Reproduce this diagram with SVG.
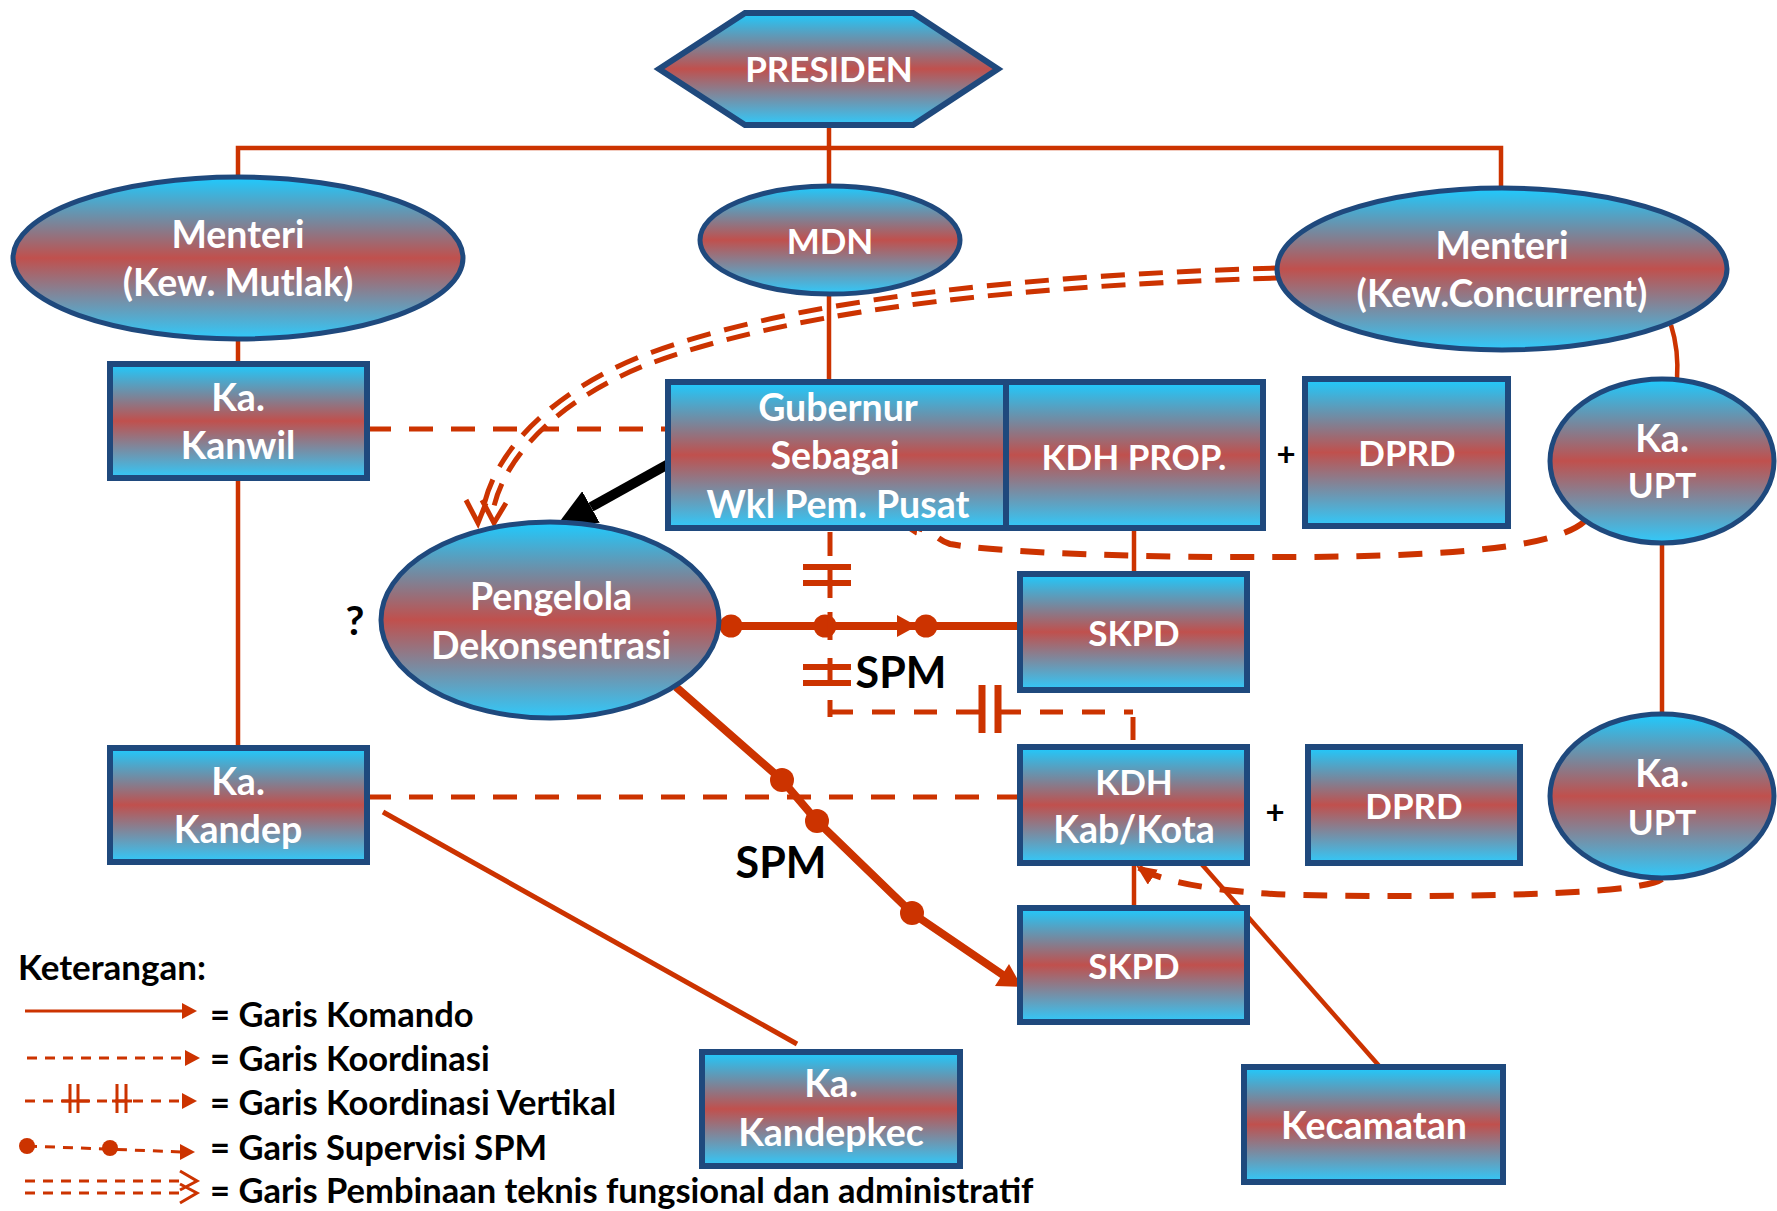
<svg xmlns="http://www.w3.org/2000/svg" width="1777" height="1211" viewBox="0 0 1777 1211">
<defs>
<linearGradient id="g" x1="0" y1="0" x2="0" y2="1">
<stop offset="0" stop-color="#1ECBFF"/>
<stop offset="0.5" stop-color="#C0504D"/>
<stop offset="1" stop-color="#30CAFB"/>
</linearGradient>
<marker id="ra" viewBox="0 0 20 18" refX="18" refY="9" markerWidth="20" markerHeight="18" markerUnits="userSpaceOnUse" orient="auto">
<path d="M0 0 L20 9 L0 18 Z" fill="#CC3300"/>
</marker>
<marker id="ba" viewBox="0 0 40 36" refX="0" refY="18" markerWidth="40" markerHeight="36" markerUnits="userSpaceOnUse" orient="auto">
<path d="M0 0 L40 18 L0 36 Z" fill="#000"/>
</marker>
<style>
.n{fill:url(#g);stroke:#1F497D;stroke-width:6}
.e{fill:url(#g);stroke:#1F497D;stroke-width:5}
.t{font-family:Lato,"Liberation Sans",sans-serif;font-weight:bold;font-size:35px;fill:#fff;text-anchor:middle}
.m{font-size:37.5px}
.k{font-family:Lato,"Liberation Sans",sans-serif;font-weight:bold;fill:#000}
.lt{font-size:34.5px}
.s{fill:none;stroke:#CC3300;stroke-width:4.5}
.d{fill:none;stroke:#CC3300;stroke-width:5;stroke-dasharray:24 18}
.dc{fill:none;stroke:#CC3300;stroke-width:6;stroke-dasharray:24 18}
.th{fill:none;stroke:#CC3300;stroke-width:8}
.tk{fill:none;stroke:#CC3300;stroke-width:6}
.lg{fill:none;stroke:#CC3300;stroke-width:3}
.lgd{fill:none;stroke:#CC3300;stroke-width:3;stroke-dasharray:10 8}
.rf{fill:#CC3300}
</style>
</defs>
<rect width="1777" height="1211" fill="#fff"/>

<g id="connectors">
<path class="s" d="M829 125 V186"/>
<path class="s" d="M238 176 V148 H1501 V187"/>
<path class="s" d="M829 295 V382"/>
<path class="s" d="M238 339 V364"/>
<path class="s" d="M238 478 V748"/>
<path class="s" d="M1671 325 Q1679 350 1677 380"/>
<path class="s" d="M1662 543 V714"/>
<path class="s" d="M1134 527 V574"/>
<path class="s" d="M1134 863 V908"/>
<path class="s" d="M1388 1076 L1198 860"/>
<path class="s" d="M383 812 L797 1044" style="stroke-width:5"/>
<path class="d" d="M367 429 H668"/>
<path class="d" d="M367 797 H1020"/>
<path d="M672 462 L591 507" stroke="#000" stroke-width="10" fill="none" marker-end="url(#ba)"/>
<path class="th" d="M719 626 H1020"/>
<circle class="rf" cx="731" cy="626" r="11.5"/>
<circle class="rf" cx="825" cy="626" r="11.5"/>
<circle class="rf" cx="926" cy="626" r="11.5"/>
<path class="rf" d="M897 615 L917 626 L897 637 Z"/>
<path class="th" d="M676 687 L782 780 L817 821 L912 913 L1003 975"/>
<circle class="rf" cx="782" cy="780" r="12"/>
<circle class="rf" cx="817" cy="821" r="12"/>
<circle class="rf" cx="912" cy="913" r="12"/>
<path class="rf" d="M1022 987 L995 986 L1009 964 Z"/>
<path class="d" d="M830 532 V556"/>
<path class="tk" d="M803 567 H851 M803 583 H851"/>
<path class="d" d="M830 567 V598" style="stroke-dasharray:none"/>
<path class="d" d="M830 612 V640" style="stroke-dasharray:none"/>
<path class="d" d="M830 658 V683" style="stroke-dasharray:none"/>
<path class="tk" d="M803 667 H851 M803 683 H851"/>
<path class="d" d="M830 700 V717" style="stroke-dasharray:none"/>
<path class="d" d="M830 712 H1133" style="stroke-dasharray:23 19"/>
<path class="tk" d="M982 685 V733 M998 685 V733" style="stroke-width:7"/>
<path class="d" d="M1133 717 V740" style="stroke-dasharray:none"/>
<path d="M1277 273 C1050 280 800 300 640 362 C560 395 500 450 488 510" fill="none" stroke="#CC3300" stroke-width="15" stroke-dasharray="24 14"/>
<path d="M1277 273 C1050 280 800 300 640 362 C560 395 500 450 488 510" fill="none" stroke="#fff" stroke-width="5" stroke-dasharray="26 12" stroke-dashoffset="1"/>
<path d="M466 500 L478 523 L486 503 M482 500 L494 523 L506 503" fill="none" stroke="#CC3300" stroke-width="5"/>
<path class="dc" d="M1585 521 C1555 548 1450 556 1300 557 C1150 558 1000 553 950 544 C935 540 938 530 900 524" marker-end="url(#ra)"/>
<path class="dc" d="M1662 879 C1640 895 1450 898 1300 895 C1220 893 1160 882 1138 867" marker-end="url(#ra)"/>
</g>

<g id="presiden">
<polygon class="n" points="659,69 745,13 913,13 998,69 913,125 745,125"/>
<text class="t" x="829" y="82">PRESIDEN</text>
</g>
<g id="menteri-mutlak">
<ellipse class="e" cx="238" cy="258" rx="225" ry="81"/>
<text class="t m" x="238" y="248">Menteri</text>
<text class="t m" x="238" y="296">(Kew. Mutlak)</text>
</g>
<g id="mdn">
<ellipse class="e" cx="830" cy="240" rx="130" ry="54"/>
<text class="t" x="830" y="254">MDN</text>
</g>
<g id="menteri-concurrent">
<ellipse class="e" cx="1502" cy="269" rx="225" ry="81"/>
<text class="t m" x="1502" y="259">Menteri</text>
<text class="t m" x="1502" y="307">(Kew.Concurrent)</text>
</g>
<g id="ka-kanwil">
<rect class="n" x="110" y="364" width="257" height="114"/>
<text class="t m" x="238" y="411">Ka.</text>
<text class="t m" x="238" y="459">Kanwil</text>
</g>
<g id="gubernur">
<rect class="n" x="668" y="382" width="338" height="146"/>
<text class="t m" x="838" y="421">Gubernur</text>
<text class="t m" x="835" y="469">Sebagai</text>
<text class="t m" x="838" y="518">Wkl Pem. Pusat</text>
</g>
<g id="kdh-prop">
<rect class="n" x="1006" y="382" width="257" height="146"/>
<text class="t" x="1134" y="470">KDH PROP.</text>
</g>
<g id="plus-1"><text class="k" x="1286" y="466" font-size="33" text-anchor="middle">+</text></g>
<g id="dprd-prop">
<rect class="n" x="1305" y="379" width="203" height="147"/>
<text class="t" x="1407" y="466">DPRD</text>
</g>
<g id="ka-upt-1">
<ellipse class="e" cx="1662" cy="461" rx="112" ry="82"/>
<text class="t m" x="1662" y="452">Ka.</text>
<text class="t" x="1662" y="498">UPT</text>
</g>
<g id="pengelola">
<ellipse class="e" cx="550" cy="620" rx="169" ry="98"/>
<text class="t m" x="551" y="610">Pengelola</text>
<text class="t m" x="551" y="659">Dekonsentrasi</text>
</g>
<g id="tanya"><text class="k" x="355" y="635" font-size="41" text-anchor="middle">?</text></g>
<g id="skpd-prop">
<rect class="n" x="1020" y="574" width="227" height="116"/>
<text class="t" x="1134" y="646">SKPD</text>
</g>
<g id="spm-1"><text class="k" x="901" y="688" font-size="43" text-anchor="middle">SPM</text></g>
<g id="spm-2"><text class="k" x="781" y="878" font-size="43" text-anchor="middle">SPM</text></g>
<g id="ka-kandep">
<rect class="n" x="110" y="748" width="257" height="114"/>
<text class="t m" x="238" y="795">Ka.</text>
<text class="t m" x="238" y="843">Kandep</text>
</g>
<g id="kdh-kab">
<rect class="n" x="1020" y="747" width="227" height="116"/>
<text class="t" x="1134" y="795">KDH</text>
<text class="t m" x="1134" y="843">Kab/Kota</text>
</g>
<g id="plus-2"><text class="k" x="1275" y="824" font-size="33" text-anchor="middle">+</text></g>
<g id="dprd-kab">
<rect class="n" x="1308" y="747" width="212" height="116"/>
<text class="t" x="1414" y="819">DPRD</text>
</g>
<g id="ka-upt-2">
<ellipse class="e" cx="1662" cy="796" rx="112" ry="82"/>
<text class="t m" x="1662" y="787">Ka.</text>
<text class="t" x="1662" y="835">UPT</text>
</g>
<g id="skpd-kab">
<rect class="n" x="1020" y="908" width="227" height="114"/>
<text class="t" x="1134" y="979">SKPD</text>
</g>
<g id="ka-kandepkec">
<rect class="n" x="702" y="1052" width="258" height="114"/>
<text class="t m" x="831" y="1097">Ka.</text>
<text class="t m" x="831" y="1146">Kandepkec</text>
</g>
<g id="kecamatan">
<rect class="n" x="1244" y="1067" width="259" height="115"/>
<text class="t m" x="1374" y="1139">Kecamatan</text>
</g>

<g id="legend">
<text class="k" x="18" y="980" font-size="35">Keterangan:</text>
<path class="lg" d="M25 1011 H183"/>
<path class="rf" d="M182 1003 L197 1011 L182 1019 Z"/>
<text class="k lt" x="210" y="1027">= Garis Komando</text>
<path class="lgd" d="M27 1058 H186"/>
<path class="rf" d="M185 1050 L200 1058 L185 1066 Z"/>
<text class="k lt" x="210" y="1071">= Garis Koordinasi</text>
<path class="lgd" d="M25 1101 H183"/>
<path class="lg" d="M62 1101 H90 M112 1101 H132 M70 1084 V1113 M78 1084 V1113 M117 1084 V1113 M126 1084 V1113"/>
<path class="rf" d="M182 1093 L197 1101 L182 1109 Z"/>
<text class="k lt" x="210" y="1115">= Garis Koordinasi Vertikal</text>
<path class="lgd" d="M27 1146 L182 1152"/>
<circle class="rf" cx="27" cy="1146" r="8"/>
<circle class="rf" cx="110" cy="1148" r="8"/>
<path class="rf" d="M180 1144 L195 1152 L180 1160 Z"/>
<text class="k lt" x="210" y="1160">= Garis Supervisi SPM</text>
<path class="lgd" d="M25 1181 H186 M25 1193 H186"/>
<path class="lg" d="M180 1171 L197 1181 L180 1190 M180 1184 L197 1193 L180 1203"/>
<text class="k lt" x="210" y="1203">= Garis Pembinaan teknis fungsional dan administratif</text>
</g>
</svg>
